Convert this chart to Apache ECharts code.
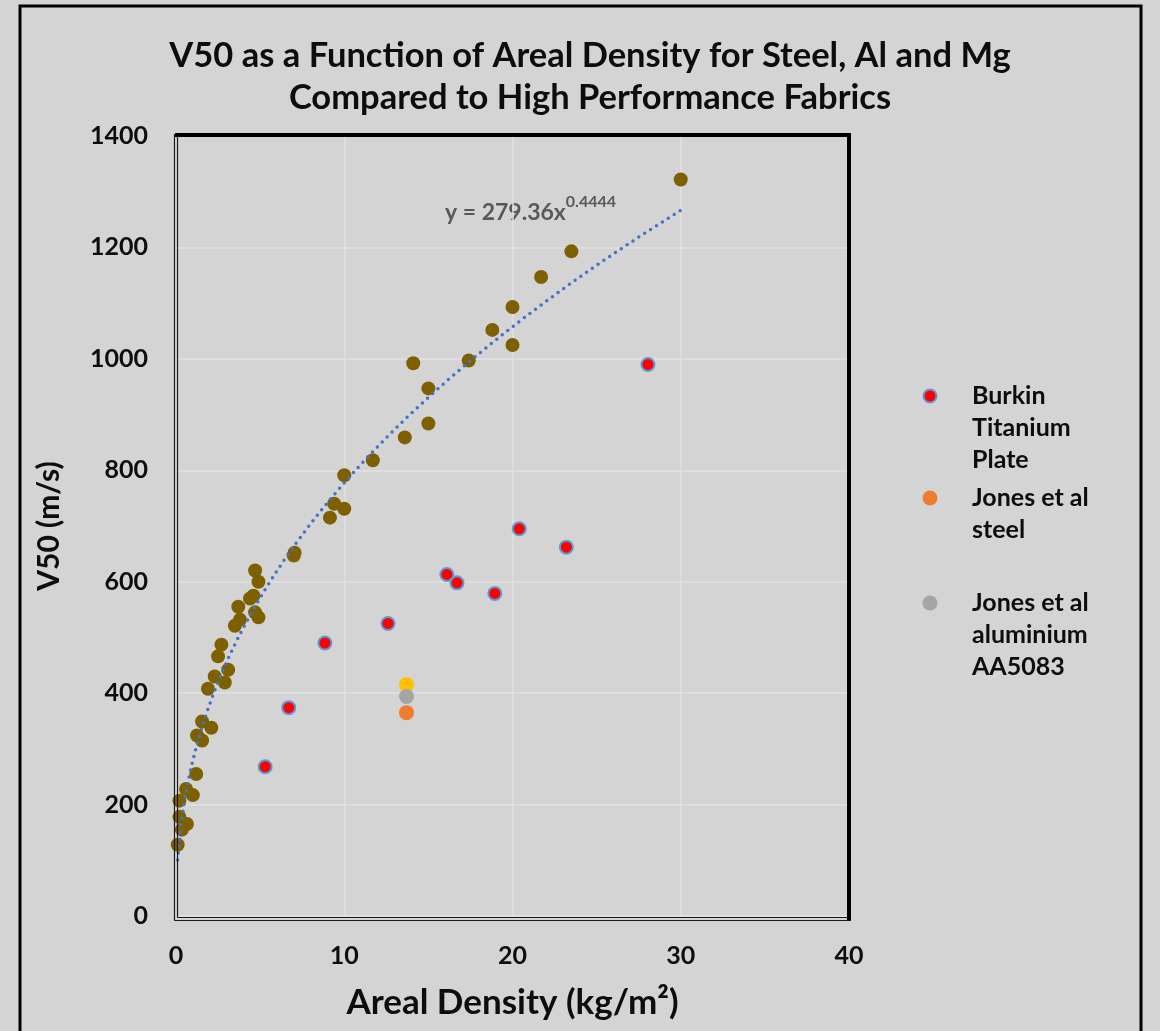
<!DOCTYPE html>
<html>
<head>
<meta charset="utf-8">
<script src="https://cdn.jsdelivr.net/npm/echarts@6/dist/echarts.min.js"></script>
<style>
  html, body { margin: 0; padding: 0; background: #d4d4d4; }
  #chart { width: 1160px; height: 1031px; }
</style>
</head>
<body>
<div id="chart"></div>
<script>
// Areal density (kg/m²) and V50 (m/s) for each data set
const fabricDensity = [0.1, 0.2, 0.35, 0.65, 0.2, 0.6, 1.0, 1.2, 1.25, 1.55, 1.55, 2.1, 1.9, 2.3, 2.9, 3.1, 2.5, 2.7, 3.5, 3.8, 4.7, 4.9, 3.7, 4.4, 4.6, 4.9, 4.7, 7.0, 7.05, 9.15, 10.0, 9.4, 10.0, 11.7, 13.6, 15.0, 15.0, 14.1, 17.4, 20.0, 18.8, 20.0, 21.7, 23.5, 30.0];
const fabricV50     = [128, 178, 155, 165, 207, 228, 217, 255, 324, 315, 349, 338, 408, 430, 419, 442, 466, 487, 521, 532, 545, 536, 555, 570, 575, 600, 620, 647, 652, 715, 731, 740, 791, 818, 859, 884, 947, 992, 997, 1025, 1052, 1093, 1147, 1193, 1322];

const burkinDensity = [5.3, 6.7, 8.85, 12.6, 16.1, 16.7, 18.95, 20.4, 23.2, 28.05];
const burkinV50     = [268, 374, 490, 525, 613, 598, 579, 695, 662, 990];

const jonesSteelDensity = [13.7];
const jonesSteelV50     = [365];
const jonesAlDensity    = [13.7];
const jonesAlV50        = [394];
const jonesMgDensity    = [13.7];
const jonesMgV50        = [415];

// Power-law trendline fitted to the fabric data: y = a·x^b
const trendA = 279.36;
const trendB = 0.4444;
const trendXRange = [0.1, 30];

const xTicks = [0, 10, 20, 30, 40];
const yTicks = [0, 200, 400, 600, 800, 1000, 1200, 1400];

const legendNames = ['Burkin\nTitanium\nPlate', 'Jones et al\nsteel', 'Jones et al\naluminium\nAA5083'];

const zip = (xs, ys) => xs.map((x, i) => [x, ys[i]]);

const trendData = [];
{
  const n = 150;
  for (let i = 0; i <= n; i++) {
    const x = trendXRange[0] + (trendXRange[1] - trendXRange[0]) * i / n;
    trendData.push([x, trendA * Math.pow(x, trendB)]);
  }
}

const FONT = 'Lato';
const BG = '#d4d4d4';
const INK = '#0d0d0d';

// plot rectangle in pixels
const G = { left: 176, top: 136, right: 849, bottom: 916 };

const chart = echarts.init(document.getElementById('chart'), null, { renderer: 'canvas' });

const legendColors = [
  { fill: '#ff0000', stroke: '#5b9bd5' },
  { fill: '#ed7d31', stroke: null },
  { fill: '#a5a5a5', stroke: null }
];
const legendRows = [396, 498, 603];

const legendGraphics = [];
legendNames.forEach((name, i) => {
  const c = legendColors[i];
  legendGraphics.push({
    type: 'circle',
    shape: { cx: 930, cy: legendRows[i], r: c.stroke ? 6.5 : 7.5 },
    style: { fill: c.fill, stroke: c.stroke || null, lineWidth: c.stroke ? 2 : 0 },
    silent: true
  });
  legendGraphics.push({
    type: 'text',
    x: 972,
    y: legendRows[i] - 16,
    style: {
      text: name,
      font: `bold 25px ${FONT}`,
      fill: INK,
      lineHeight: 32,
      verticalAlign: 'top',
      align: 'left'
    },
    silent: true
  });
});

const frameGraphics = [
  // outer chart border
  { type: 'rect', shape: { x: 20, y: 6, width: 1121, height: 1060 },
    style: { fill: null, stroke: '#000', lineWidth: 3 }, silent: true },
  // plot frame: heavy top and right edges
  { type: 'rect', shape: { x: 175, y: 133, width: 676, height: 4 }, style: { fill: '#000' }, silent: true, z: 10 },
  { type: 'rect', shape: { x: 847, y: 133, width: 4, height: 788 }, style: { fill: '#000' }, silent: true, z: 10 },
  // double rule on left and bottom edges
  { type: 'line', shape: { x1: 174.5, y1: 134, x2: 174.5, y2: 920.5 }, style: { stroke: '#1a1a1a', lineWidth: 1.2 }, silent: true, z: 10 },
  { type: 'line', shape: { x1: 177.5, y1: 137, x2: 177.5, y2: 917.5 }, style: { stroke: '#1a1a1a', lineWidth: 1.2 }, silent: true, z: 10 },
  { type: 'line', shape: { x1: 177.5, y1: 917.5, x2: 848, y2: 917.5 }, style: { stroke: '#1a1a1a', lineWidth: 1.2 }, silent: true, z: 10 },
  { type: 'line', shape: { x1: 174.5, y1: 920.5, x2: 851, y2: 920.5 }, style: { stroke: '#1a1a1a', lineWidth: 1.2 }, silent: true, z: 10 }
];

const trendLabel = {
  type: 'text',
  x: 445,
  y: 194,
  style: {
    text: '{m|y = ' + trendA.toFixed(2) + 'x}{s|' + trendB.toFixed(4) + '}',
    rich: {
      m: { font: `bold 23px ${FONT}`, fill: '#595959', lineHeight: 30, verticalAlign: 'bottom' },
      s: { font: `bold 16px ${FONT}`, fill: '#595959', lineHeight: 30, verticalAlign: 'top' }
    },
    verticalAlign: 'top'
  },
  silent: true
};

const plainNumber = v => String(v);

const option = {
  backgroundColor: BG,
  animation: false,
  textStyle: { fontFamily: FONT },
  title: {
    text: 'V50 as a Function of Areal Density for Steel, Al and Mg\nCompared to High Performance Fabrics',
    left: 585,
    top: 30,
    textAlign: 'center',
    textStyle: { fontFamily: FONT, fontWeight: 'bold', fontSize: 34.5, lineHeight: 42, color: INK }
  },
  grid: {
    left: G.left, top: G.top, right: 1160 - G.right, bottom: 1031 - G.bottom,
    containLabel: false
  },
  xAxis: {
    type: 'value',
    min: xTicks[0], max: xTicks[xTicks.length - 1], interval: 10,
    name: 'Areal Density (kg/m²)',
    nameLocation: 'middle',
    nameGap: 69,
    nameTextStyle: { fontFamily: FONT, fontWeight: 'bold', fontSize: 35, color: INK },
    axisLine: { show: false },
    axisTick: { show: false },
    axisLabel: { fontFamily: FONT, fontWeight: 'bold', fontSize: 25, color: INK, margin: 27, formatter: plainNumber },
    splitLine: { show: true, lineStyle: { color: '#e2e2e2', width: 1.5 } }
  },
  yAxis: {
    type: 'value',
    min: yTicks[0], max: yTicks[yTicks.length - 1], interval: 200,
    name: 'V50 (m/s)',
    nameLocation: 'middle',
    nameGap: 112,
    nameTextStyle: { fontFamily: FONT, fontWeight: 'bold', fontSize: 30, color: INK },
    axisLine: { show: false },
    axisTick: { show: false },
    axisLabel: { fontFamily: FONT, fontWeight: 'bold', fontSize: 25, color: INK, margin: 28, formatter: plainNumber },
    splitLine: { show: true, lineStyle: { color: '#e2e2e2', width: 1.5 } }
  },
  series: [
    {
      name: 'High performance fabrics',
      type: 'scatter',
      data: zip(fabricDensity, fabricV50),
      symbol: 'circle',
      symbolSize: 14,
      itemStyle: { color: '#7f6000', opacity: 1 },
      z: 2
    },
    {
      name: 'Burkin Titanium Plate',
      type: 'scatter',
      data: zip(burkinDensity, burkinV50),
      symbol: 'circle',
      symbolSize: 13,
      itemStyle: { color: '#ff0000', borderColor: '#5b9bd5', borderWidth: 2, opacity: 1 },
      z: 3
    },
    {
      name: 'Jones et al magnesium',
      type: 'scatter',
      data: zip(jonesMgDensity, jonesMgV50),
      symbolSize: 15,
      itemStyle: { color: '#ffc000', opacity: 1 },
      z: 3
    },
    {
      name: 'Jones et al aluminium AA5083',
      type: 'scatter',
      data: zip(jonesAlDensity, jonesAlV50),
      symbolSize: 15,
      itemStyle: { color: '#a5a5a5', opacity: 1 },
      z: 4
    },
    {
      name: 'Jones et al steel',
      type: 'scatter',
      data: zip(jonesSteelDensity, jonesSteelV50),
      symbolSize: 15,
      itemStyle: { color: '#ed7d31', opacity: 1 },
      z: 5
    },
    {
      name: 'Power trendline',
      type: 'line',
      data: trendData,
      showSymbol: false,
      smooth: false,
      lineStyle: { color: '#4472c4', width: 3.5, type: [0, 7], cap: 'round' },
      z: 6,
      silent: true
    }
  ],
  graphic: [...frameGraphics, trendLabel, ...legendGraphics]
};

chart.setOption(option);
</script>
</body>
</html>
